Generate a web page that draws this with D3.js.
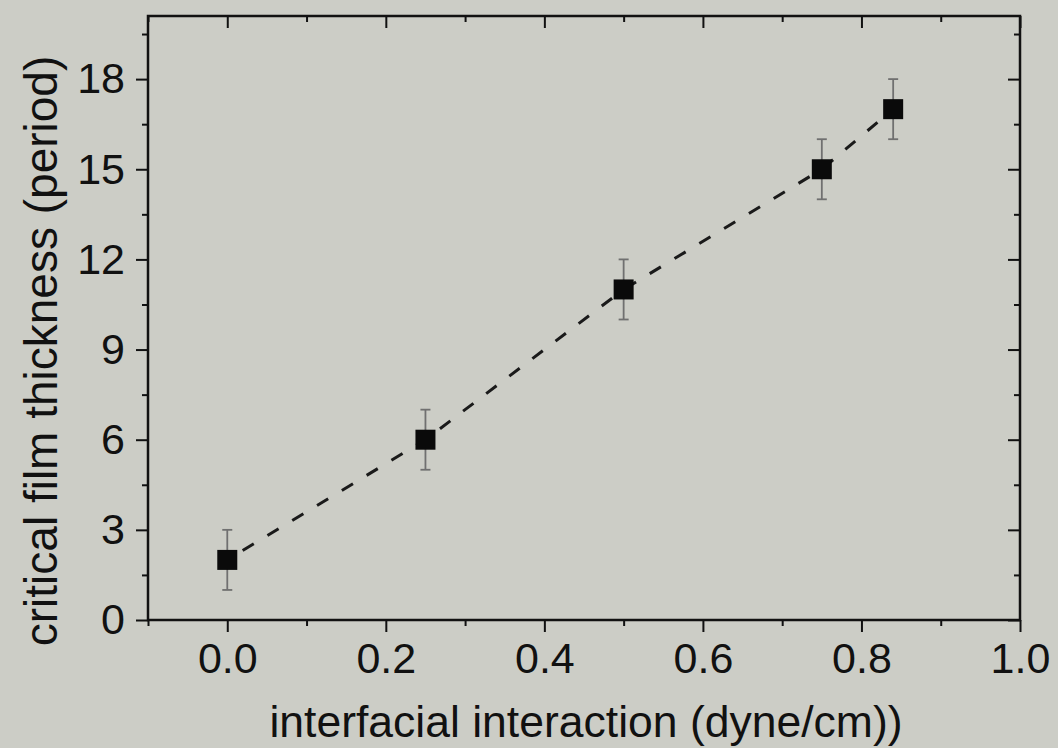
<!DOCTYPE html>
<html>
<head>
<meta charset="utf-8">
<script src="https://cdn.jsdelivr.net/npm/d3@7"></script>
<style>
  body { margin: 0; background: #cccdc6; }
  svg { display: block; }
  text { font-family: "Liberation Sans", Arial, sans-serif; fill: #111; }
</style>
</head>
<body>
<div id="chart"></div>
<script>
// data
const xVals = [0.0, 0.25, 0.5, 0.75, 0.84];
const yVals = [2, 6, 11, 15, 17];
const yErr = [1, 1, 1, 1, 1];

const xMajor = [0.0, 0.2, 0.4, 0.6, 0.8, 1.0];
const xMinor = [-0.1, 0.1, 0.3, 0.5, 0.7, 0.9];
const yMajor = [0, 3, 6, 9, 12, 15, 18];
const yMinor = [1.5, 4.5, 7.5, 10.5, 13.5, 16.5, 19.5];

const xLabel = "interfacial interaction (dyne/cm))";
const yLabel = "critical film thickness (period)";

const width = 1058;
const height = 748;

const plotL = 148, plotR = 1020, plotT = 16, plotB = 620;

const svg = d3.select("#chart")
              .append("svg")
              .attr("width", width)
              .attr("height", height);

const xScale = d3.scaleLinear()
                 .domain([-0.1, 1.0])
                 .range([plotL, plotR]);

const yScale = d3.scaleLinear()
                 .domain([0, 20.1])
                 .range([plotB, plotT]);

const fmtX = d3.format(".1f");

// bottom axis, ticks out
const xAxis = d3.axisBottom(xScale)
                .tickValues(xMajor)
                .tickSize(12)
                .tickPadding(10)
                .tickFormat(fmtX);

svg.append("g")
   .attr("transform", "translate(0," + plotB + ")")
   .call(xAxis)
   .call(g => g.selectAll("text").style("font-size", "43px").attr("dy", "0.72em"));

svg.append("g")
   .attr("transform", "translate(0," + plotB + ")")
   .call(d3.axisBottom(xScale).tickValues(xMinor).tickSize(6).tickFormat(""));

// top axis, ticks in
svg.append("g")
   .attr("transform", "translate(0," + plotT + ")")
   .call(d3.axisBottom(xScale).tickValues(xMajor).tickSize(12).tickFormat(""));
svg.append("g")
   .attr("transform", "translate(0," + plotT + ")")
   .call(d3.axisBottom(xScale).tickValues(xMinor).tickSize(6).tickFormat(""));

// left axis, ticks out
const yAxis = d3.axisLeft(yScale)
                .tickValues(yMajor)
                .tickSize(12)
                .tickPadding(11);

svg.append("g")
   .attr("transform", "translate(" + plotL + ",0)")
   .call(yAxis)
   .call(g => g.selectAll("text").style("font-size", "43px"));

svg.append("g")
   .attr("transform", "translate(" + plotL + ",0)")
   .call(d3.axisLeft(yScale).tickValues(yMinor).tickSize(6).tickFormat(""));

// right axis, ticks in
svg.append("g")
   .attr("transform", "translate(" + plotR + ",0)")
   .call(d3.axisLeft(yScale).tickValues(yMajor).tickSize(12).tickFormat(""));
svg.append("g")
   .attr("transform", "translate(" + plotR + ",0)")
   .call(d3.axisLeft(yScale).tickValues(yMinor).tickSize(6).tickFormat(""));

svg.selectAll(".domain").remove();
svg.selectAll(".tick line").attr("stroke", "#111").attr("stroke-width", 2);

// frame
svg.append("rect")
   .attr("x", plotL)
   .attr("y", plotT)
   .attr("width", plotR - plotL)
   .attr("height", plotB - plotT)
   .attr("fill", "none")
   .attr("stroke", "#111")
   .attr("stroke-width", 2.5);

const pts = xVals.map((x, i) => ({ x: x, y: yVals[i], e: yErr[i] }));

// dashed connecting line
const line = d3.line()
               .x(d => xScale(d.x))
               .y(d => yScale(d.y));

svg.append("path")
   .datum(pts)
   .attr("d", line)
   .attr("fill", "none")
   .attr("stroke", "#1a1a1a")
   .attr("stroke-width", 3)
   .attr("stroke-dasharray", "13,16")
   .attr("stroke-dashoffset", -18);

// error bars
const capW = 5;
const eb = svg.append("g")
              .attr("stroke", "#707070")
              .attr("stroke-width", 1.8);

eb.selectAll("line.v")
  .data(pts)
  .enter()
  .append("line")
  .attr("x1", d => xScale(d.x))
  .attr("x2", d => xScale(d.x))
  .attr("y1", d => yScale(d.y - d.e))
  .attr("y2", d => yScale(d.y + d.e));

eb.selectAll("line.t")
  .data(pts)
  .enter()
  .append("line")
  .attr("x1", d => xScale(d.x) - capW)
  .attr("x2", d => xScale(d.x) + capW)
  .attr("y1", d => yScale(d.y + d.e))
  .attr("y2", d => yScale(d.y + d.e));

eb.selectAll("line.b")
  .data(pts)
  .enter()
  .append("line")
  .attr("x1", d => xScale(d.x) - capW)
  .attr("x2", d => xScale(d.x) + capW)
  .attr("y1", d => yScale(d.y - d.e))
  .attr("y2", d => yScale(d.y - d.e));

// square markers
const sz = 20;
svg.selectAll("rect.pt")
   .data(pts)
   .enter()
   .append("rect")
   .attr("class", "pt")
   .attr("x", d => xScale(d.x) - sz / 2)
   .attr("y", d => yScale(d.y) - sz / 2)
   .attr("width", sz)
   .attr("height", sz)
   .attr("fill", "#0a0a0a");

// axis titles
svg.append("text")
   .attr("x", 586)
   .attr("y", 737)
   .attr("text-anchor", "middle")
   .style("font-size", "44.5px")
   .text(xLabel);

svg.append("text")
   .attr("transform", "translate(57,351) rotate(-90)")
   .attr("text-anchor", "middle")
   .style("font-size", "46px")
   .text(yLabel);
</script>
</body>
</html>
